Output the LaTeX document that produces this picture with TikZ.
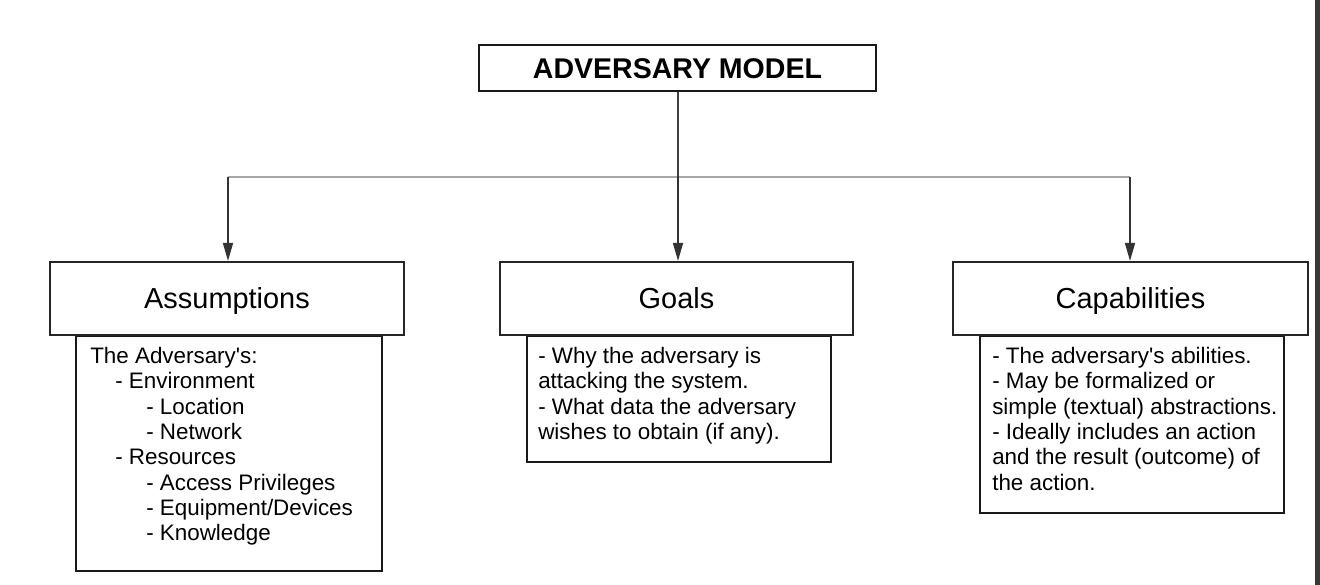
\documentclass[tikz,border=0pt]{standalone}
\usepackage{fontspec}
\setmainfont{Liberation Sans}
\usetikzlibrary{arrows.meta}
\newcommand{\indA}{\hspace*{18.75pt}}
\newcommand{\indB}{\hspace*{42pt}}
\newcommand{\apos}{\textquotesingle}
\begin{document}
\begin{tikzpicture}[x=0.75pt,y=-0.75pt,
  titlebox/.style={draw=black!90,line width=2pt,fill=white,inner sep=0pt,
    text height=15.3pt,text depth=0pt,
    minimum width=397*0.75pt,minimum height=46*0.75pt,font=\fontsize{21.4}{24}\selectfont\bfseries},
  headbox/.style={draw=black!85,line width=1.6pt,fill=white,inner sep=0pt,
    text height=15.5pt,text depth=0pt,
    minimum width=354*0.75pt,minimum height=73*0.75pt,font=\fontsize{21.7}{24}\selectfont},
  bodybox/.style={draw=black!90,line width=1.6pt,fill=white,inner sep=0pt,anchor=north west},
  bodytext/.style={anchor=north west,inner sep=0pt,align=left,
    font=\fontsize{16.8}{19}\selectfont},
  conn/.style={draw=black!75,line width=1.2pt},
  hconn/.style={draw=black!35,line width=1.2pt},
  arr/.style={draw=black!80,line width=1.2pt,-{Triangle[length=13.5pt,width=7.5pt]}}
]
\path[use as bounding box,fill=white] (0,0) rectangle (1320,585);
\fill[black!78] (1315,0) rectangle (1320,585);

% title
\node[titlebox] (title) at (677.5,68) {ADVERSARY MODEL};

% body boxes
\node[bodybox,minimum width=306*0.75pt,minimum height=235*0.75pt] (assB) at (75,335) {};
\node[bodybox,minimum width=304*0.75pt,minimum height=126*0.75pt] (goaB) at (526,335) {};
\node[bodybox,minimum width=304*0.75pt,minimum height=177*0.75pt] (capB) at (979,335) {};

% header boxes
\node[headbox] (assH) at (227,298.5) {Assumptions};
\node[headbox,minimum width=353*0.75pt] (goaH) at (676.5,298.5) {Goals};
\node[headbox,minimum width=355*0.75pt] (capH) at (1130.5,298.5) {Capabilities};

% body texts
\node[bodytext] (assT) at (90,347) {The Adversary\apos s:\\
\indA- Environment\\
\indB- Location\\
\indB- Network\\
\indA- Resources\\
\indB- Access Privileges\\
\indB- Equipment/Devices\\
\indB- Knowledge};
\node[bodytext] (goaT) at (538,347) {- Why the adversary is\\
attacking the system.\\
- What data the adversary\\
wishes to obtain (if any).};
\node[bodytext] (capT) at (992,347) {- The adversary\apos s abilities.\\
- May be formalized or\\
simple (textual) abstractions.\\
- Ideally includes an action\\
and the result (outcome) of\\
the action.};

% connectors
\coordinate (jm) at (678,177);
\coordinate (jl) at (228,177);
\coordinate (jr) at (1130,177);
\draw[hconn] (jl) -- (jr);
\draw[conn] (title.south -| jm) -- (jm);
\draw[arr] (jl) -- (jl |- assH.north);
\draw[arr] (jm) -- (jm |- goaH.north);
\draw[arr] (jr) -- (jr |- capH.north);
\end{tikzpicture}
\end{document}
